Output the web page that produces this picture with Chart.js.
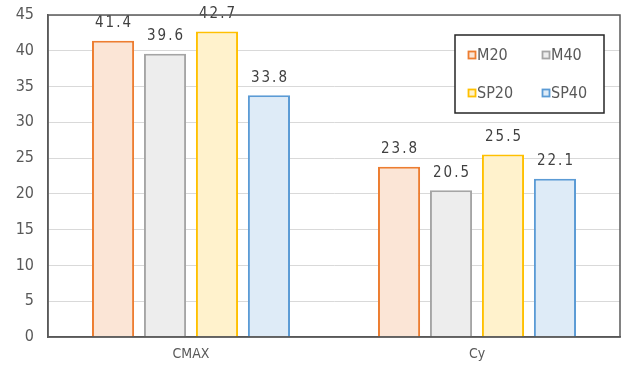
<!DOCTYPE html>
<html>
<head>
<meta charset="utf-8">
<script src="https://cdn.jsdelivr.net/npm/chart.js@4.4.1/dist/chart.umd.min.js"></script>
<style>
  html, body { margin: 0; padding: 0; background: #fff; }
  #wrap { width: 625px; height: 367px; }
</style>
</head>
<body>
<div id="wrap"><canvas id="c" width="625" height="367"></canvas></div>
<script>
// Categories and series
const categories = ['CMAX', 'Cy'];
const seriesNames = ['M20', 'M40', 'SP20', 'SP40'];
const m20 = [41.4, 23.8];
const m40 = [39.6, 20.5];
const sp20 = [42.7, 25.5];
const sp40 = [33.8, 22.1];
const yTicks = [0, 5, 10, 15, 20, 25, 30, 35, 40, 45];

const fills = ['#fbe5d6', '#ededed', '#fff2cc', '#deebf7'];
const borders = ['#ed7d31', '#a5a5a5', '#ffc000', '#5b9bd5'];
const values = [m20, m40, sp20, sp40];

const FONT = '"DejaVu Sans Condensed", "Liberation Sans", Arial, sans-serif';

// Value labels above each bar
const valueLabels = {
  id: 'valueLabels',
  afterDatasetsDraw(chart) {
    const ctx = chart.ctx;
    ctx.save();
    ctx.font = '15px ' + FONT;
    ctx.letterSpacing = '2px';
    ctx.fillStyle = '#404040';
    ctx.textAlign = 'center';
    ctx.textBaseline = 'bottom';
    chart.data.datasets.forEach((ds, i) => {
      chart.getDatasetMeta(i).data.forEach((bar, j) => {
        ctx.fillText(ds.data[j].toFixed(1), bar.x + 1, bar.y - 10);
      });
    });
    ctx.restore();
  }
};

// Frame around the plot area and boxed two-column legend
const frameAndLegend = {
  id: 'frameAndLegend',
  afterDraw(chart) {
    const ctx = chart.ctx;
    const a = chart.chartArea;
    ctx.save();
    ctx.strokeStyle = '#595959';
    ctx.lineWidth = 1.5;
    ctx.strokeRect(a.left, a.top, a.right - a.left, a.bottom - a.top);

    // legend box
    const bx = 455, by = 35, bw = 149, bh = 78;
    ctx.fillStyle = '#ffffff';
    ctx.fillRect(bx, by, bw, bh);
    ctx.strokeStyle = '#262626';
    ctx.lineWidth = 1.5;
    ctx.strokeRect(bx, by, bw, bh);

    ctx.font = '16px ' + FONT;
    ctx.textBaseline = 'middle';
    ctx.textAlign = 'left';
    chart.data.datasets.forEach((ds, i) => {
      const col = i % 2, row = Math.floor(i / 2);
      const mx = bx + 17 + col * 74;
      const my = by + 20 + row * 38;
      ctx.fillStyle = ds.backgroundColor;
      ctx.fillRect(mx - 3.5, my - 3.5, 7, 7);
      ctx.strokeStyle = ds.borderColor;
      ctx.lineWidth = 1.8;
      ctx.strokeRect(mx - 3.5, my - 3.5, 7, 7);
      ctx.fillStyle = '#595959';
      ctx.fillText(ds.label, mx + 5, my + 1);
    });
    ctx.restore();
  }
};

new Chart(document.getElementById('c'), {
  type: 'bar',
  data: {
    labels: categories,
    datasets: seriesNames.map((name, i) => ({
      label: name,
      data: values[i],
      backgroundColor: fills[i],
      borderColor: borders[i],
      borderWidth: 2,
      categoryPercentage: 0.727,
      barPercentage: 0.81
    }))
  },
  options: {
    responsive: false,
    animation: false,
    layout: { padding: { top: 15, right: 5, left: 0, bottom: 0 } },
    plugins: {
      legend: { display: false },
      tooltip: { enabled: false }
    },
    scales: {
      x: {
        grid: { display: false, drawTicks: false },
        border: { display: true, color: '#595959', width: 1.5 },
        ticks: { color: '#595959', font: { size: 14, family: FONT }, padding: 9 },
        afterFit(s) { s.height = 30; s.paddingLeft = 0; s.paddingRight = 0; }
      },
      y: {
        min: 0,
        max: 45,
        afterBuildTicks(s) { s.ticks = yTicks.map(v => ({ value: v })); },
        grid: { color: '#d9d9d9', lineWidth: 1, drawTicks: false },
        border: { display: true, color: '#595959', width: 1.5 },
        ticks: { color: '#595959', font: { size: 16, family: FONT }, padding: 14 },
        afterFit(s) { s.width = 48; s.paddingTop = 0; s.paddingBottom = 0; }
      }
    }
  },
  plugins: [valueLabels, frameAndLegend]
});
</script>
</body>
</html>
